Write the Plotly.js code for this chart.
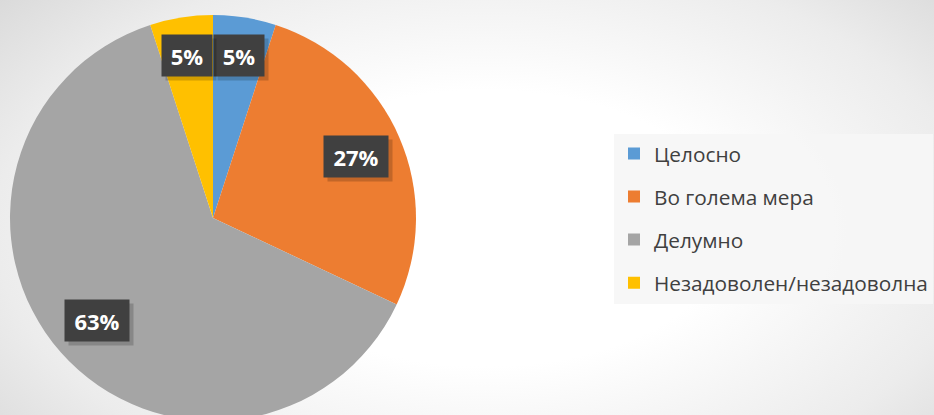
<!DOCTYPE html>
<html>
<head>
<meta charset="utf-8">
<script src="https://cdn.plot.ly/plotly-3.0.1.min.js"></script>
<style>
  html, body { margin:0; padding:0; width:934px; height:415px; overflow:hidden; }
  body { background: radial-gradient(ellipse 75% 95% at 52% 55%, #ffffff 35%, #ececec 70%, #d2d2d2 100%); }
  #chart { width:934px; height:440px; }
</style>
</head>
<body>
<div id="chart"></div>
<script>
// ---- data ----
const categories = ['Целосно', 'Во голема мера', 'Делумно', 'Незадоволен/незадоволна'];
const values = [5, 27, 63, 5];
const percentLabels = ['5%', '27%', '63%', '5%'];
const colors = ['#5B9BD5', '#ED7D31', '#A5A5A5', '#FFC000'];

// ---- layout constants ----
const W = 934, H = 440;
const cx = 213, cy = 218, R = 203;

const pie = {
  type: 'pie',
  labels: categories,
  values: values,
  sort: false,
  direction: 'clockwise',
  rotation: 0,
  textinfo: 'none',
  marker: { colors: colors, line: { width: 0 } },
  domain: { x: [(cx - R) / W, (cx + R) / W], y: [1 - (cy + R) / H, 1 - (cy - R) / H] },
  showlegend: false,
  hoverinfo: 'label+percent'
};

// legend entries (one per category) so that item spacing can be set
const legendTraces = categories.map((c, i) => ({
  type: 'bar', x: [null], y: [null], name: c,
  marker: { color: colors[i] },
  legendgroup: 'g' + i, showlegend: true, hoverinfo: 'skip'
}));

// labels positioned from slice mid-angles computed from the data
const total = values.reduce((a, b) => a + b, 0);
const annotations = [];
let acc = 0;
values.forEach((v, i) => {
  const mid = (acc + v / 2) / total * 2 * Math.PI;
  acc += v;
  const r = (v / total < 0.1 ? 0.81 : 0.765) * R;
  const px = cx + r * Math.sin(mid);
  const py = cy - r * Math.cos(mid);
  const w = percentLabels[i].length > 2 ? 64 : 50;
  const base = {
    xref: 'paper', yref: 'paper', x: px / W, y: 1 - py / H,
    xanchor: 'center', yanchor: 'middle', showarrow: false,
    width: w, height: 41, borderpad: 0,
    font: { family: 'Open Sans, sans-serif', size: 22, color: '#ffffff', weight: 'bold' }
  };
  annotations.push(Object.assign({}, base, { text: ' ', bgcolor: 'rgba(0,0,0,0.18)', xshift: 4, yshift: -4 }));
  annotations.push(Object.assign({}, base, { text: '<b>' + percentLabels[i] + '</b>', bgcolor: '#404040' }));
});

const layout = {
  width: W, height: H,
  margin: { l: 0, r: 0, t: 0, b: 0 },
  paper_bgcolor: 'rgba(0,0,0,0)',
  plot_bgcolor: 'rgba(0,0,0,0)',
  xaxis: { visible: false, domain: [0.99, 1] },
  yaxis: { visible: false, domain: [0.99, 1] },
  showlegend: true,
  legend: {
    x: 614 / W, xanchor: 'left',
    y: 1 - 218.5 / H, yanchor: 'middle',
    bgcolor: 'rgba(246,246,246,0.9)',
    font: { family: 'Open Sans, sans-serif', size: 20.8, color: '#404040' },
    traceorder: 'grouped',
    tracegroupgap: 13,
    itemwidth: 30,
    itemclick: false
  },
  annotations: annotations
};

Plotly.newPlot('chart', [pie].concat(legendTraces), layout, { displayModeBar: false, staticPlot: true });
</script>
</body>
</html>
